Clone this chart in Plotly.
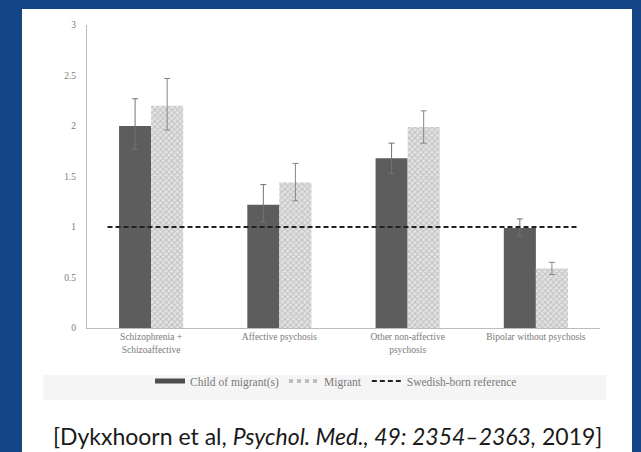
import plotly.graph_objects as go

# Odds ratios of psychotic / bipolar disorders by migrant status
categories = [
    "Schizophrenia +<br>Schizoaffective",
    "Affective psychosis",
    "Other non-affective<br>psychosis",
    "Bipolar without psychosis",
]
child_or = [2.00, 1.22, 1.68, 0.99]
child_lo = [1.77, 1.05, 1.53, 0.91]
child_hi = [2.27, 1.42, 1.83, 1.08]

migrant_or = [2.20, 1.44, 1.99, 0.59]
migrant_lo = [1.96, 1.26, 1.83, 0.53]
migrant_hi = [2.47, 1.63, 2.15, 0.65]

reference_or = 1.0
y_ticks = [0, 0.5, 1, 1.5, 2, 2.5, 3]
y_tick_text = ["0", "0.5", "1", "1.5", "2", "2.5", "3"]

series_names = ["Child of migrant(s)", "Migrant", "Swedish-born reference"]
citation = ("[Dykxhoorn et al, <i>Psychol. Med., 49: 2354\u20132363,</i> 2019]")

W, H = 641, 452
ML, MR, MT, MB = 87, 41, 25, 124
plot_w = W - ML - MR
plot_h = H - MT - MB


def px_x(px):
    return (px - ML) / plot_w


def px_y(py):
    return (H - MB - py) / plot_h


label_font = dict(family="Liberation Serif", size=9.5, color="#7a7a7a")

fig = go.Figure()

fig.add_trace(go.Bar(
    x=categories, y=child_or, name=series_names[0], showlegend=False,
    marker=dict(color="#5d5d5d", line=dict(width=0)),
    error_y=dict(
        type="data", symmetric=False,
        array=[h - v for h, v in zip(child_hi, child_or)],
        arrayminus=[v - l for v, l in zip(child_or, child_lo)],
        color="#737373", thickness=1, width=3,
    ),
))
fig.add_trace(go.Bar(
    x=categories, y=migrant_or, name=series_names[1], showlegend=False,
    marker=dict(
        color="#dcdcdc", line=dict(width=0),
        pattern=dict(shape="x", fgcolor="#9c9c9c", bgcolor="#e4e4e4",
                     size=4, solidity=0.45),
    ),
    error_y=dict(
        type="data", symmetric=False,
        array=[h - v for h, v in zip(migrant_hi, migrant_or)],
        arrayminus=[v - l for v, l in zip(migrant_or, migrant_lo)],
        color="#878787", thickness=1, width=3,
    ),
))

# legend entries drawn as line swatches
fig.add_trace(go.Scatter(x=[None], y=[None], mode="lines", name=series_names[0],
                         line=dict(color="#4e4e4e", width=5)))
fig.add_trace(go.Scatter(x=[None], y=[None], mode="lines", name=series_names[1],
                         line=dict(color="#bdbdbd", width=4, dash="dot")))
fig.add_trace(go.Scatter(x=[None], y=[None], mode="lines", name=series_names[2],
                         line=dict(color="#222222", width=2, dash="5px,3px")))

shapes = [
    # white slide panel
    dict(type="rect", xref="paper", yref="paper",
         x0=px_x(22), x1=px_x(632), y0=px_y(460), y1=px_y(9),
         fillcolor="white", line=dict(width=0), layer="below"),
    # soft grey band behind the legend
    dict(type="rect", xref="paper", yref="paper",
         x0=px_x(43), x1=px_x(606), y0=px_y(400), y1=px_y(375),
         fillcolor="#f5f5f5", line=dict(width=0), layer="below"),
    # Swedish-born reference line
    dict(type="line", xref="x", yref="y", x0=-0.34, x1=3.34,
         y0=reference_or, y1=reference_or,
         line=dict(color="#222222", width=2, dash="5px,3px"), layer="above"),
]

fig.update_layout(
    width=W, height=H,
    margin=dict(l=ML, r=MR, t=MT, b=MB),
    paper_bgcolor="#134587",
    plot_bgcolor="white",
    barmode="group", bargap=0.5, bargroupgap=0,
    shapes=shapes,
    font=label_font,
    legend=dict(orientation="h", x=px_x(336), y=px_y(381),
                xanchor="center", yanchor="middle",
                bgcolor="rgba(0,0,0,0)",
                font=dict(family="Liberation Serif", size=11.5, color="#7a7a7a"),
                itemwidth=30, tracegroupgap=0),
    annotations=[dict(
        text=citation, xref="paper", yref="paper",
        x=px_x(327), y=px_y(436), xanchor="center", yanchor="middle",
        showarrow=False,
        font=dict(family="Lato", size=23, color="#1a1a1a"),
    )],
)

fig.update_xaxes(
    type="category", showline=True, linecolor="#bcbcbc", linewidth=1,
    ticks="", showgrid=False, tickfont=label_font,
)
fig.update_yaxes(
    range=[0, 3], tickvals=y_ticks, ticktext=y_tick_text,
    showline=True, linecolor="#bcbcbc", linewidth=1,
    showgrid=False, zeroline=False,
    ticks="outside", ticklen=8, tickcolor="white",
    tickfont=label_font,
)

fig.write_html("out.html")
